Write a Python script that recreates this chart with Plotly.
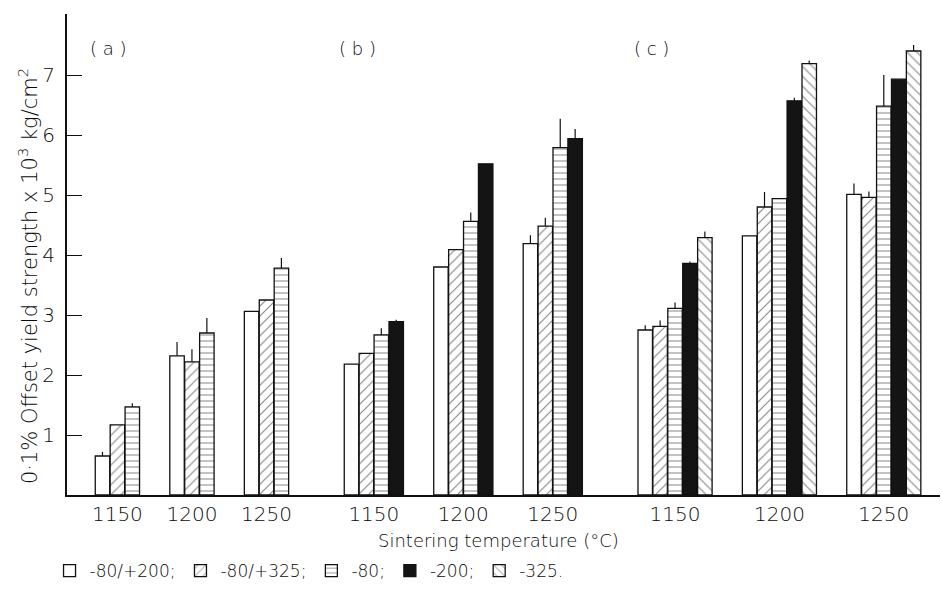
import plotly.graph_objects as go

# ---------------- data ----------------
temperatures = ["1150", "1200", "1250"]
panel_labels = ["( a )", "( b )", "( c )"]
series_names = ["-80/+200;", "-80/+325;", "-80;", "-200;", "-325."]

# yield strength (x10^3 kg/cm^2) per panel (a, b, c) and temperature
m80_p200 = [[0.65, 2.32, 3.06], [2.18, 3.80, 4.19], [2.75, 4.32, 5.01]]
m80_p325 = [[1.17, 2.22, 3.25], [2.36, 4.09, 4.48], [2.81, 4.80, 4.96]]
m80 = [[1.47, 2.70, 3.78], [2.67, 4.56, 5.79], [3.11, 4.94, 6.48]]
m200 = [None, [2.89, 5.52, 5.94], [3.86, 6.57, 6.93]]
m325 = [None, None, [4.29, 7.19, 7.40]]

# upward scatter (error) bars
err_m80_p200 = [[0.07, 0.23, 0.0], [0.0, 0.0, 0.14], [0.08, 0.0, 0.18]]
err_m80_p325 = [[0.0, 0.21, 0.0], [0.0, 0.0, 0.14], [0.10, 0.25, 0.10]]
err_m80 = [[0.06, 0.25, 0.17], [0.11, 0.15, 0.48], [0.10, 0.0, 0.52]]
err_m200 = [None, [0.03, 0.0, 0.16], [0.03, 0.05, 0.0]]
err_m325 = [None, None, [0.10, 0.05, 0.10]]

series_values = [m80_p200, m80_p325, m80, m200, m325]
series_errors = [err_m80_p200, err_m80_p325, err_m80, err_m200, err_m325]

# ---------------- styles ----------------
patterns = [
    dict(shape="", fill="white"),
    dict(shape="/", fill="white"),
    dict(shape="-", fill="white"),
    dict(shape="", fill="#141414"),
    dict(shape="\\", fill="white"),
]
FONT = "DejaVu Sans"
WEIGHT = 300
TXT = "#0a0a0a"
INK = "#111111"

BAR_W = 1.0
GROUP_GAP = 2.0
PANEL_GAP = 3.7


def f(size):
    return dict(family=FONT, size=size, color=TXT, weight=WEIGHT)


# ---------------- layout of groups (computed from structure) ----------------
bars_per_panel = [sum(1 for s in series_values if s[p] is not None) for p in range(3)]
group_left = []
pos = 0.0
last_right = 0.0
for p in range(3):
    lefts = []
    for k in range(len(temperatures)):
        lefts.append(pos)
        pos += bars_per_panel[p] * BAR_W
        last_right = pos
        if k < len(temperatures) - 1:
            pos += GROUP_GAP
    group_left.append(lefts)
    pos += PANEL_GAP

fig = go.Figure()
for i, name in enumerate(series_names):
    xs, ys, es = [], [], []
    for p in range(3):
        vals = series_values[i][p]
        if vals is None:
            continue
        for k, v in enumerate(vals):
            xs.append(group_left[p][k] + (i + 0.5) * BAR_W)
            ys.append(v)
            es.append(series_errors[i][p][k])
    st = patterns[i]
    marker = dict(color=st["fill"], line=dict(color=INK, width=1.3))
    if st["shape"]:
        marker["pattern"] = dict(shape=st["shape"], fgcolor=INK, bgcolor="white",
                                 size=7 if st["shape"] != "-" else 6,
                                 solidity=0.17, fillmode="overlay")
    fig.add_trace(go.Bar(
        x=xs, y=ys, width=BAR_W * 0.97, name=name, marker=marker,
        error_y=dict(type="data", symmetric=False, array=es,
                     arrayminus=[0] * len(es), width=0, thickness=1.2, color=INK),
    ))

tick_vals, tick_text = [], []
for p in range(3):
    for k, t in enumerate(temperatures):
        tick_vals.append(group_left[p][k] + bars_per_panel[p] * BAR_W / 2)
        tick_text.append(t)

for p, lab in enumerate(panel_labels):
    fig.add_annotation(x=group_left[p][0] + 0.9, y=7.45, xref="x", yref="y",
                       xanchor="center", yanchor="middle",
                       text=lab, showarrow=False, font=f(18))

fig.add_annotation(x=0.494, y=-0.094, xref="paper", yref="paper",
                   xanchor="center", yanchor="middle",
                   text="Sintering temperature (°C)", showarrow=False, font=f(18))
fig.add_annotation(x=-0.0447, y=0.455, xref="paper", yref="paper", textangle=-90,
                   xanchor="center", yanchor="middle",
                   text="0·1% Offset yield strength x 10<sup>3</sup> kg/cm<sup>2</sup>",
                   showarrow=False, font=f(21))

fig.update_layout(
    width=943, height=595,
    margin=dict(l=67, r=3, t=14, b=100),
    paper_bgcolor="white", plot_bgcolor="white",
    barmode="overlay",
    font=f(18),
    showlegend=True,
    legend=dict(orientation="h", x=-0.02, y=-0.158, xanchor="left", yanchor="middle",
                font=f(17), itemwidth=30,
                traceorder="normal", bgcolor="rgba(0,0,0,0)"),
    xaxis=dict(range=[-1.88, last_right + 1.27], showgrid=False, zeroline=False,
               showline=True, linecolor=INK, linewidth=2, ticks="",
               tickvals=tick_vals, ticktext=tick_text, ticklabelstandoff=0,
               tickfont=f(20)),
    yaxis=dict(range=[0, 481 / 60], showgrid=False, zeroline=False,
               showline=True, linecolor=INK, linewidth=2,
               ticks="inside", ticklen=15, tickwidth=1.3, tickcolor=INK,
               tickvals=[1, 2, 3, 4, 5, 6, 7], ticklabelstandoff=6,
               tickfont=f(20)),
)

fig.write_html("out.html")
